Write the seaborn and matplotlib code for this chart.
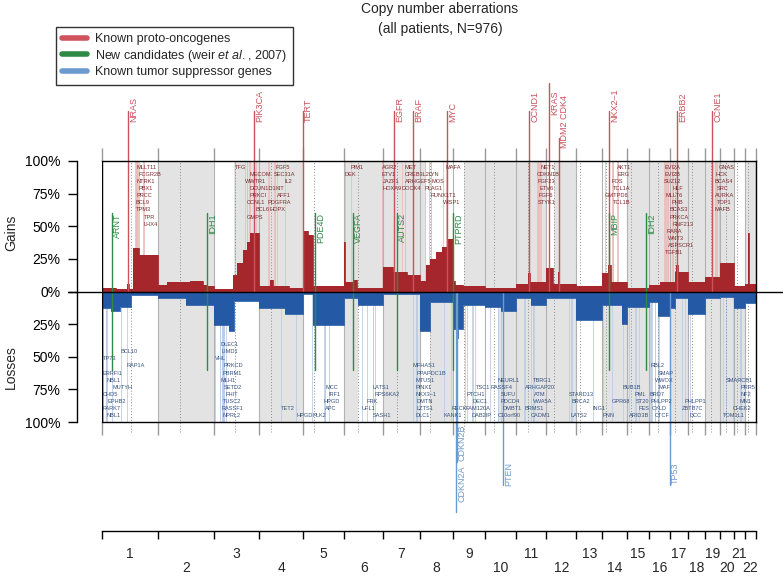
import numpy as np
import matplotlib
matplotlib.use("Agg")
import matplotlib.pyplot as plt
from matplotlib.lines import Line2D
import seaborn as sns

# ====== Data: genome layout (Mb) ======
chrom_names = [str(i) for i in range(1, 23)]
chrom_len = [247, 243, 199, 191, 181, 171, 159, 146, 140, 135, 134,
             132, 114, 106, 100, 89, 79, 76, 64, 62, 47, 50]
centromere = [125, 93, 91, 50, 48, 60, 60, 45, 49, 40, 53,
              35, 17, 17, 19, 36, 24, 17, 26, 27, 13, 14]

# ====== Data: aberration frequency (% of patients), step profile ======
gain_start = [0, 60, 109, 118, 135, 162, 247, 285, 385, 442, 460, 490,
              574, 591, 617, 635, 648, 689, 736, 749, 820, 880, 902, 924,
              1061, 1062, 1066, 1104, 1117, 1232, 1274, 1336, 1391, 1419,
              1436, 1463, 1489, 1511, 1537, 1546, 1580, 1677, 1812, 1866,
              1874, 1946, 1975, 1998, 2004, 2078, 2192, 2215, 2228, 2298,
              2398, 2443, 2487, 2510, 2516, 2522, 2566, 2642, 2706, 2768,
              2815, 2829, 2833]
gain_pct = [3, 2, 6, 2, 33, 28, 5, 7, 8, 5, 4, 2,
            13, 22, 32, 38, 45, 4, 9, 4, 3, 46, 43, 4,
            7, 38, 7, 9, 3, 19, 15, 13, 8, 20,
            25, 30, 34, 40, 8, 5, 4, 3, 6, 14,
            7, 18, 6, 15, 6, 4, 14, 20, 7, 3,
            5, 7, 7, 15, 20, 15, 7, 11, 22, 4,
            6, 45, 6]

loss_start = [0, 40, 80, 125, 247, 370, 490, 555, 580, 689, 800, 880,
              925, 1061, 1120, 1232, 1391, 1437, 1537, 1550, 1560, 1580,
              1677, 1750, 1812, 1880, 1946, 2078, 2192, 2280, 2298, 2398,
              2434, 2487, 2510, 2566, 2642, 2706, 2768, 2815]
loss_pct = [13, 15, 12, 3, 5, 10, 26, 30, 7, 13, 17, 2,
            26, 5, 10, 2, 30, 8, 29, 36, 29, 10,
            12, 15, 5, 10, 5, 22, 10, 25, 12, 8,
            19, 13, 5, 17, 5, 4, 13, 9]

# grey background stretches (Mb) in each panel
gain_grey = [(247, 490), (580, 689), (689, 880), (1061, 1232), (1232, 1391),
             (1391, 1419), (1586, 1677), (1677, 1812), (1812, 1946),
             (1981, 2078), (2298, 2398), (2398, 2487), (2487, 2566),
             (2566, 2642), (2642, 2706), (2706, 2768), (2815, 2865)]
loss_grey = [(247, 490), (689, 880), (1061, 1120), (1232, 1391),
             (1437, 1537), (1740, 1812), (1812, 1946), (1946, 2078),
             (2192, 2298), (2298, 2398), (2487, 2566), (2642, 2706),
             (2706, 2768), (2768, 2815)]

# known proto-oncogenes (big labels)
onc_names = ["NRAS", "PIK3CA", "TERT", "EGFR", "BRAF", "MYC", "CCND1",
             "KRAS", "MDM2 CDK4", "NKX2\u20131", "ERBB2", "CCNE1"]
onc_mb = [114, 666, 880, 1279, 1362, 1511, 1870, 1957, 2001, 2220, 2518, 2671]

# new candidates (Weir et al., 2007)
cand_names = ["ARNT", "IDH1", "PDE4D", "VEGFA", "AUTS2", "PTPRD", "MBIP", "IDH2"]
cand_mb = [44, 460, 933, 1099, 1292, 1537, 2220, 2382]

# known tumor suppressors (big labels)
tsg_names = ["CDKN2A", "CDKN2B", "PTEN", "TP53"]
tsg_mb = [1550, 1553, 1756, 2487]

# small gene labels in the gains panel: name, Mb, row
gain_genes = ["MLLT11", "FCGR2B", "NTRK1", "PBX1", "PRCC", "BCL9", "TPM3", "TPR", "LHX4",
              "TFG", "MECOM", "WWTR1", "DCUN1D1", "KIT", "PRKCI", "CCNL1", "BCL6", "HOPX",
              "GMPS", "FGF5", "SEC31A", "IL2", "AFF1", "PDGFRA", "PIM1", "DEK",
              "AGR2", "ETV1", "JAZF1", "HOXA9", "MET", "CREB3L2", "LYN", "ARHGEF5", "MOS",
              "DOCK4", "PLAG1", "RUNX1T1", "WISP1", "MAFA", "NET1", "CDKN1B", "FGF23",
              "ETV6", "FGF6", "STYK1", "AKT1", "ERG", "FOS", "TCL1A", "GMTPD6", "TCL1B",
              "EVI2A", "EVI2B", "SUZ12", "HLF", "MLLT6", "PHB", "BCAS3", "PRKCA", "RNF213",
              "RARA", "WNT3", "ASPSCR1", "TGFB1", "GNAS", "HCK", "BCAS4", "SRC", "AURKA",
              "TOP1", "MAFB"]
gain_gene_mb = [149, 158, 153, 162, 153, 145, 149, 184, 180,
                582, 644, 626, 648, 760, 648, 635, 674, 732,
                635, 758, 753, 801, 766, 727, 1090, 1064,
                1226, 1226, 1230, 1230, 1327, 1326, 1432, 1326, 1442,
                1314, 1414, 1441, 1493, 1506, 1922, 1905, 1909,
                1918, 1914, 1909, 2255, 2260, 2233, 2238, 2203, 2238,
                2465, 2465, 2461, 2500, 2470, 2496, 2487, 2487, 2500,
                2474, 2478, 2478, 2465, 2702, 2689, 2684, 2693, 2684,
                2693, 2684]
gain_gene_row = [0, 1, 2, 3, 4, 5, 6, 7, 8,
                 0, 1, 2, 3, 3, 4, 5, 6, 6,
                 7, 0, 1, 2, 4, 5, 0, 1,
                 0, 1, 2, 3, 0, 1, 1, 2, 2,
                 3, 3, 4, 5, 0, 0, 1, 2,
                 3, 4, 5, 0, 1, 2, 3, 4, 5,
                 0, 1, 2, 3, 4, 5, 6, 7, 8,
                 9, 10, 11, 12, 0, 1, 2, 3, 4,
                 5, 6]

# small gene labels in the losses panel (row counted from the bottom)
loss_genes = ["BCL10", "TP73", "RAP1A", "ERRFI1", "NBL1", "MUTYH", "CHD5", "EPHB2", "PARK7",
              "NBL1", "DLEC1", "LIMD1", "VHL", "PRKCD", "PBRM1", "MLH1", "SETD2", "FHIT",
              "TUSC2", "RASSF1", "NPRL2", "TET2", "HPGD", "PLK2", "MCC", "IRF1", "HPGD",
              "APC", "LATS1", "RPS6KA2", "FRK", "UFL1", "SASH1", "MFHAS1", "PPAPDC1B",
              "MTUS1", "PINX1", "NKX3\u20131", "DMTN", "LZTS1", "DLC1", "KANK1", "RECK",
              "FAM120A", "PTCH1", "TSC1", "RASSF4", "DEC1", "DAB2IP", "NEURL1", "SUFU",
              "PDCD4", "DMBT1", "BRMS1", "C10orf90", "TBRG1", "ARHGAP20", "ATM", "VWA5A",
              "CADM1", "STARD13", "BRCA2", "LATS2", "ING1", "PNN", "GPR68", "BUB1B", "PML",
              "ST20", "FES", "ARID3B", "RBL2", "SMAP", "WWOX", "MAF", "BRD7", "PHLPP2",
              "CYLD", "CTCF", "PHLPP1", "ZBTB7C", "DCC", "SMARCB1", "PRR5", "NF2", "MN1",
              "CHEK2", "TOM1L1"]
loss_gene_mb = [83, 4, 109, 4, 18, 44, 4, 22, 4,
                18, 517, 525, 495, 534, 530, 517, 534, 543,
                530, 525, 530, 784, 850, 920, 977, 994, 972,
                977, 1187, 1195, 1160, 1139, 1187, 1362, 1379,
                1375, 1375, 1375, 1379, 1379, 1375, 1498, 1530,
                1592, 1598, 1636, 1700, 1625, 1620, 1734, 1747,
                1747, 1756, 1850, 1734, 1887, 1852, 1892, 1887,
                1879, 2045, 2058, 2054, 2150, 2194, 2233, 2281, 2334,
                2338, 2352, 2308, 2404, 2435, 2422, 2439, 2400, 2404,
                2408, 2422, 2553, 2540, 2575, 2733, 2798, 2798, 2794,
                2763, 2719]
loss_gene_row = [9, 8, 7, 6, 5, 4, 3, 2, 1,
                 0, 10, 9, 8, 7, 6, 5, 4, 3,
                 2, 1, 0, 1, 0, 0, 4, 3, 2,
                 1, 4, 3, 2, 1, 0, 7, 6,
                 5, 4, 3, 2, 1, 0, 0, 1,
                 1, 3, 4, 4, 2, 0, 5, 3,
                 2, 1, 1, 0, 5, 4, 3, 2,
                 0, 3, 2, 0, 1, 0, 2, 4, 3,
                 2, 1, 0, 7, 6, 5, 4, 3, 2,
                 1, 0, 2, 1, 0, 5, 4, 3, 2,
                 1, 0]

# ====== Colours ======
RED = "#a5272c"
BLUE = "#2459a6"
GREY = "#e3e3e3"
ONC = "#c9525c"
CAND = "#2f8a45"
TSG = "#6b9ad0"

# ====== Style ======
sns.set_theme(style="white")
plt.rcParams["font.family"] = ["Liberation Sans", "DejaVu Sans"]
plt.rcParams["mathtext.fontset"] = "custom"
plt.rcParams["mathtext.rm"] = "Liberation Sans"
plt.rcParams["mathtext.it"] = "Liberation Sans:italic"

W, H = 783, 576
fig = plt.figure(figsize=(W / 100, H / 100), dpi=100)
ax = fig.add_axes([102 / W, 1 - 422 / H, 654 / W, 261 / H])

chrom_start = np.concatenate([[0], np.cumsum(chrom_len)[:-1]])
genome_end = float(np.sum(chrom_len))
bounds = list(chrom_start) + [genome_end]
centro = chrom_start + np.array(centromere)

ax.set_xlim(0, genome_end)
ax.set_ylim(-100, 100)

# grey background
for a, b in gain_grey:
    ax.axvspan(a, b, ymin=0.5, ymax=1.0, color=GREY, lw=0, zorder=0)
for a, b in loss_grey:
    ax.axvspan(a, b, ymin=0.0, ymax=0.5, color=GREY, lw=0, zorder=0)

# thin gene position lines
ax.vlines(gain_gene_mb + onc_mb, 0, 100, color="#ebbcbc", lw=0.6, zorder=1)
ax.vlines(loss_gene_mb + tsg_mb, -100, 0, color="#bccde5", lw=0.6, zorder=1)

# chromosome boundaries and centromeres
ax.vlines(bounds, -100, 100, color="#b2b2b2", lw=0.8, zorder=1.5)
ax.vlines(bounds, 100, 110, color="#999999", lw=1.0, clip_on=False)
ax.vlines(bounds, -110, -100, color="#999999", lw=1.0, clip_on=False)
ax.vlines(centro, -108, 100, color="#8c8c8c", lw=0.7, linestyles=(0, (1, 2)),
          zorder=1.5, clip_on=False)

# frequency profiles
gx = np.array(gain_start + [genome_end], dtype=float)
gy = np.array(gain_pct + [gain_pct[-1]], dtype=float)
lx = np.array(loss_start + [genome_end], dtype=float)
ly = -np.array(loss_pct + [loss_pct[-1]], dtype=float)
ax.fill_between(gx, 0, gy, step="post", color=RED, lw=0, zorder=2)
ax.fill_between(lx, 0, ly, step="post", color=BLUE, lw=0, zorder=2)
sns.lineplot(x=gx, y=gy, drawstyle="steps-post", color=RED, lw=0.6, ax=ax, zorder=2)
sns.lineplot(x=lx, y=ly, drawstyle="steps-post", color=BLUE, lw=0.6, ax=ax, zorder=2)

# small gene labels
for name, mb, r in zip(gain_genes, gain_gene_mb, gain_gene_row):
    ax.text(mb, 95.4 - 5.48 * r, name, fontsize=4.1, color="#7c2a2c",
            ha="left", va="center", zorder=4)
for name, mb, r in zip(loss_genes, loss_gene_mb, loss_gene_row):
    ax.text(mb, -95.4 + 5.48 * r, name, fontsize=4.1, color="#34507e",
            ha="left", va="center", zorder=4)

# known proto-oncogenes
for name, mb in zip(onc_names, onc_mb):
    top, base = 138, 130
    if name == "KRAS":
        top, base = 160, 135
    if name.startswith("MDM2"):
        top, base = 118, 110
    ax.plot([mb, mb], [0, top], color=ONC, lw=1.0, zorder=3, clip_on=False)
    ax.text(mb + 6, base, name, rotation=90, fontsize=6.5, color=ONC,
            ha="left", va="bottom", zorder=4, clip_on=False)

# new candidates
for name, mb in zip(cand_names, cand_mb):
    ax.plot([mb, mb], [-60, 60], color=CAND, lw=1.0, zorder=3)
    ax.text(mb + 6, 60, name, rotation=90, fontsize=6.5, color=CAND,
            ha="left", va="top", zorder=4)

# known tumor suppressors
for name, mb in zip(tsg_names, tsg_mb):
    top, bottom = -131, -148
    if name == "CDKN2A":
        top, bottom = -133, -169
    if name == "CDKN2B":
        top, bottom = -102, -131
    ax.plot([mb, mb], [0, bottom], color=TSG, lw=1.0, zorder=3, clip_on=False)
    ax.text(mb + 6, top, name, rotation=90, fontsize=6.5, color=TSG,
            ha="left", va="top", zorder=4, clip_on=False)

# axes frame
ax.set_xticks([])
ax.set_yticks([100, 75, 50, 25, 0, -25, -50, -75, -100])
ax.set_yticklabels(["100%", "75%", "50%", "25%", "0%", "25%", "50%", "75%", "100%"])
ax.tick_params(axis="y", left=True, length=6.5, width=1, color="black",
               labelsize=10, pad=5.5, labelcolor="black")
for side in ["top", "bottom", "right"]:
    ax.spines[side].set_color("black")
    ax.spines[side].set_linewidth(1.0)
    ax.spines[side].set_zorder(6)
ax.spines["left"].set_position(("outward", 18))
ax.spines["left"].set_color("black")
ax.spines["left"].set_linewidth(1.0)
ax.axvline(0, color="black", lw=1.0, zorder=6)
ax.set_ylabel("")

# zero line running past the frame
fig.add_artist(Line2D([68 / W, 1.0], [1 - 291.5 / H] * 2, color="black", lw=1.0, zorder=7))

fig.text(11 / W, 1 - 233 / H, "Gains", rotation=90, ha="center", va="center", fontsize=10)
fig.text(11 / W, 1 - 367 / H, "Losses", rotation=90, ha="center", va="center", fontsize=10)

fig.text(440 / W, 1 - 9 / H, "Copy number aberrations", ha="center", va="center", fontsize=10)
fig.text(440 / W, 1 - 29 / H, "(all patients, N=976)", ha="center", va="center", fontsize=10)

# legend
handles = [Line2D([0], [0], color=c, lw=4, solid_capstyle="round")
           for c in ["#d0525d", "#2f8a45", "#6b9ad0"]]
labels = ["Known proto-oncogenes",
          r"New candidates (weir $\it{et\ al.}$, 2007)",
          "Known tumor suppressor genes"]
leg = fig.legend(handles, labels, loc="upper left", bbox_to_anchor=(56 / W, 1 - 27 / H),
                 frameon=True, fancybox=False, edgecolor="black", fontsize=9,
                 handlelength=2.0, handletextpad=0.6, labelspacing=0.2,
                 borderpad=0.5, borderaxespad=0)
leg.get_frame().set_linewidth(1.0)

# chromosome axis
ax2 = fig.add_axes([102 / W, 0, 654 / W, (H - 531) / H])
ax2.set_xlim(0, genome_end)
ax2.set_ylim(0, 1)
for side in ["left", "right", "bottom"]:
    ax2.spines[side].set_visible(False)
ax2.spines["top"].set_color("black")
ax2.spines["top"].set_linewidth(1.0)
ax2.set_xticks(bounds)
ax2.set_yticks([])
ax2.tick_params(axis="x", top=True, bottom=False, direction="in", length=6,
                width=1, color="black", labeltop=False, labelbottom=False)
ax2.patch.set_alpha(0)
mids = chrom_start + np.array(chrom_len) / 2
for i, name in enumerate(chrom_names):
    ax2.text(mids[i], 0.5 if i % 2 == 0 else 0.17, name, ha="center", va="center",
             fontsize=10)

fig.savefig("out.png", dpi=100)
